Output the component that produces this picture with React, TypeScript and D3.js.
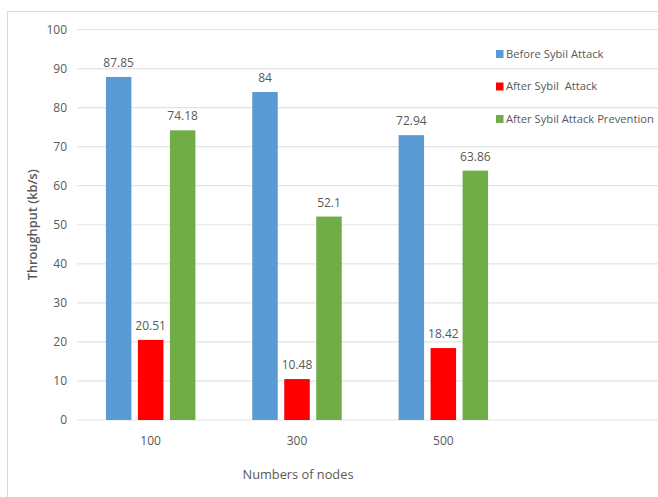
import React from "react";
import * as d3 from "d3";

const categories = ["100", "300", "500"];
const seriesNames = ["Before Sybil Attack", "After Sybil  Attack", "After Sybil Attack Prevention"];
const beforeAttack = [87.85, 84, 72.94];
const afterAttack = [20.51, 10.48, 18.42];
const afterPrevention = [74.18, 52.1, 63.86];
const yTicks = [0, 10, 20, 30, 40, 50, 60, 70, 80, 90, 100];
const colors = ["#5B9BD5", "#FF0000", "#70AD47"];

const W = 658;
const H = 497;
const FONT = "'Open Sans', 'Noto Sans', sans-serif";

export default function App() {
  const series = [beforeAttack, afterAttack, afterPrevention];
  const x = d3.scaleBand<string>().domain(categories).range([77.5, 516.5]).padding(0);
  const y = d3.scaleLinear().domain([0, 100]).range([420, 29.5]);
  const barW = 25.5;
  const gap = 6.5;
  const groupW = barW * 3 + gap * 2;
  const fmt = (v: number) => String(v);

  return (
    <svg
      width={W}
      height={H}
      style={{ position: "absolute", left: 0, top: 0, background: "#fff" }}
      fontFamily={FONT}
    >
      <rect x={0} y={0} width={W} height={H} fill="#fff" />
      <rect x={7.5} y={11.5} width={700} height={600} fill="none" stroke="#D9D9D9" strokeWidth={1} />
      {yTicks.map((t) => (
        <g key={t}>
          <line x1={77} x2={W} y1={y(t)} y2={y(t)} stroke="#E3E3E3" strokeWidth={1.2} />
          <text x={67} y={y(t)} dy="0.35em" textAnchor="end" fontSize={12} fill="#595959">
            {t}
          </text>
        </g>
      ))}
      {categories.map((c, i) => {
        const cx = (x(c) as number) + x.bandwidth() / 2;
        return (
          <g key={c}>
            {series.map((s, j) => {
              const bx = cx - groupW / 2 + j * (barW + gap);
              return (
                <g key={j}>
                  <rect x={bx} y={y(s[i])} width={barW} height={y(0) - y(s[i])} fill={colors[j]} />
                  <text
                    x={bx + barW / 2}
                    y={y(s[i]) - 10}
                    textAnchor="middle"
                    fontSize={12}
                    fill="#595959"
                  >
                    {fmt(s[i])}
                  </text>
                </g>
              );
            })}
            <text x={cx} y={445} textAnchor="middle" fontSize={12} fill="#595959">
              {c}
            </text>
          </g>
        );
      })}
      <text
        transform={`translate(37, ${(y(0) + y(100)) / 2}) rotate(-90)`}
        textAnchor="middle"
        fontSize={12.8}
        fontWeight={600}
        fill="#595959"
      >
        Throughput (kb/s)
      </text>
      <text x={298} y={479} textAnchor="middle" fontSize={12.8} fill="#595959">
        Numbers of nodes
      </text>
      {seriesNames.map((n, j) => (
        <g key={n} transform={`translate(496, ${54 + j * 32.5})`}>
          <rect x={0} y={-4} width={7.5} height={8} fill={colors[j]} />
          <text x={10} y={0} dy="0.35em" fontSize={11.2} fill="#595959" style={{ whiteSpace: "pre" }}>
            {n}
          </text>
        </g>
      ))}
    </svg>
  );
}
